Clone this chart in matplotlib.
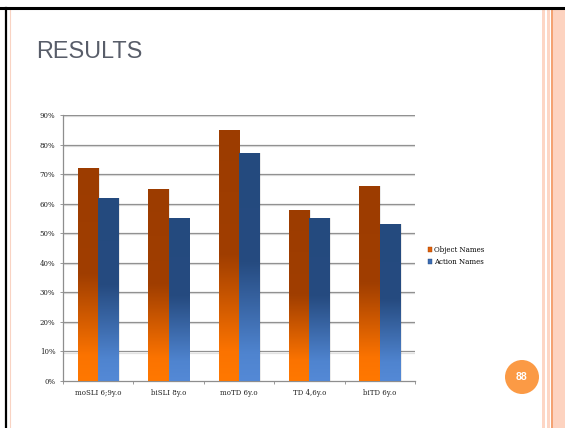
import matplotlib.pyplot as plt
import numpy as np
from matplotlib.colors import LinearSegmentedColormap
from matplotlib.patches import Rectangle, Ellipse, Patch
from matplotlib.lines import Line2D
import matplotlib.patheffects as pe

# DATA
groups = ["moSLI 6;9y.o", "biSLI 8y.o", "moTD 6y.o", "TD 4,6y.o", "biTD 6y.o"]
object_names = [72, 65, 85, 58, 66]
action_names = [62, 55, 77, 55, 53]
series_labels = ["Object Names", "Action Names"]
y_ticks = [0, 10, 20, 30, 40, 50, 60, 70, 80, 90]

W, H = 565, 428

# bottom -> top colour ramps for each series
orange_cmap = LinearSegmentedColormap.from_list(
    "orange_ramp", [(0.0, "#ff7800"), (0.12, "#fb7300"), (0.5, "#a03e00"), (1.0, "#9c3c00")])
blue_cmap = LinearSegmentedColormap.from_list(
    "blue_ramp", [(0.0, "#5489d6"), (0.12, "#4f84cf"), (0.52, "#264b80"), (1.0, "#244a7e")])


def px(x, y):
    """pixel position (from top-left) -> figure fraction"""
    return x / W, 1 - y / H


def gradient_bars(ax, x, values, width, cmap):
    bars = ax.bar(x, values, width, align="edge", color="none", zorder=3)
    ramp = np.linspace(0, 1, 256).reshape(-1, 1)
    for bar in bars:
        x0, h, w = bar.get_x(), bar.get_height(), bar.get_width()
        # soft shadow to the right of each bar
        ax.add_patch(Rectangle((x0 + 0.02, 0), w, h, facecolor="#000000",
                               alpha=0.08, edgecolor="none", zorder=2.5))
        im = ax.imshow(ramp, cmap=cmap, origin="lower", aspect="auto",
                       extent=[x0, x0 + w, 0, h], zorder=3, interpolation="bilinear")
        im.set_clip_path(bar)
    return bars


fig = plt.figure(figsize=(W / 100, H / 100), dpi=100)
fig.patch.set_facecolor("white")

# slide frame
fig.add_artist(Line2D([0, 1], [px(0, 7.5)[1]] * 2, color="black", lw=2.2,
                      transform=fig.transFigure, zorder=10))
fig.add_artist(Line2D([px(5.5, 0)[0]] * 2, [0, px(0, 7.5)[1]], color="black", lw=1.6,
                      transform=fig.transFigure, zorder=10))
fig.add_artist(Line2D([px(9.5, 0)[0]] * 2, [0, px(0, 9)[1]], color="#f9d3c3", lw=0.8,
                      transform=fig.transFigure))
for x0, x1, c in [(542, 545, "#fdd6c5"), (547, 549.5, "#fdd6c5"),
                  (551, 552.5, "#f4a272"), (553, 565, "#fdd3c0")]:
    fig.add_artist(Rectangle((x0 / W, 0), (x1 - x0) / W, px(0, 9)[1],
                             facecolor=c, edgecolor="none", transform=fig.transFigure))

fig.text(*px(36, 51), "RESULTS", ha="left", va="center", fontsize=16.8,
         color="#585d69", family="Liberation Sans")

# page number badge
fig.add_artist(Ellipse(px(522, 377), 34 / W, 34 / H, facecolor="#fb9a45",
                       edgecolor="none", transform=fig.transFigure))
fig.text(*px(522, 377), "88", ha="center", va="center", fontsize=7.5,
         color="white", fontweight="bold", family="Liberation Sans")

# chart
l, r, t, b = 63, 415, 115, 381
ax = fig.add_axes([l / W, 1 - b / H, (r - l) / W, (b - t) / H])
n = len(groups)
idx = np.arange(n)
bw = 0.29
gradient_bars(ax, idx + 0.5 - bw, object_names, bw, orange_cmap)
gradient_bars(ax, idx + 0.5, action_names, bw, blue_cmap)

ax.set_xlim(0, n)
ax.set_ylim(0, 90)
ax.set_yticks(y_ticks)
ax.set_yticklabels([f"{v}%" for v in y_ticks])
ax.set_xticks(idx + 0.5)
ax.set_xticklabels(groups)
ax.set_xticks(np.arange(n + 1), minor=True)
ax.tick_params(axis="x", which="major", length=0, pad=6)
ax.tick_params(axis="x", which="minor", length=2.5, color="#888888", width=0.6)
ax.tick_params(axis="y", length=2.5, color="#888888", width=0.6, pad=3)
for lab in ax.get_xticklabels() + ax.get_yticklabels():
    lab.set_fontsize(5)
    lab.set_family("DejaVu Serif")
    lab.set_color("#222222")

for v in y_ticks[1:]:
    ax.axhline(v, color="#919191", lw=0.9, zorder=1,
               path_effects=[pe.SimpleLineShadow(offset=(0, -0.8), shadow_color="#d0d0d0", alpha=0.6),
                             pe.Normal()])
for s in ["top", "right"]:
    ax.spines[s].set_visible(False)
for s in ["left", "bottom"]:
    ax.spines[s].set_color("#8e8e8e")
    ax.spines[s].set_linewidth(0.9)

handles = [Patch(facecolor="#e0600a", edgecolor="#a04000", lw=0.3),
           Patch(facecolor="#3b6cb3", edgecolor="#244a7e", lw=0.3)]
fig.legend(handles, series_labels, loc="center left", bbox_to_anchor=px(422, 256),
           frameon=False, handlelength=0.6, handleheight=0.6, handletextpad=0.3,
           labelspacing=0.6, prop={"family": "DejaVu Serif", "size": 5})

fig.savefig("out.png", dpi=100, facecolor="white")
